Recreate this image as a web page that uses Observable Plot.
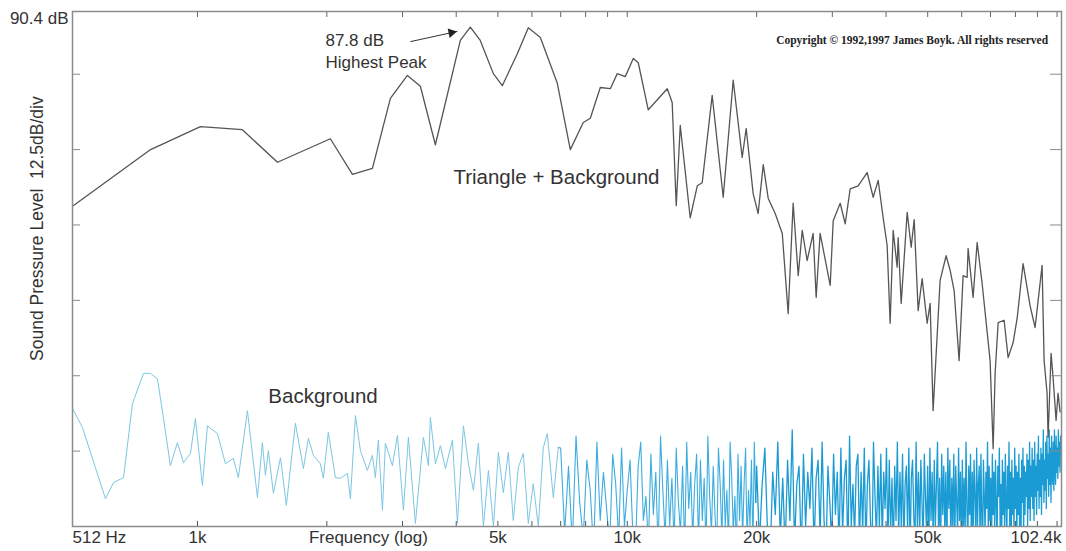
<!DOCTYPE html>
<html>
<head>
<meta charset="utf-8">
<script src="https://cdn.jsdelivr.net/npm/d3@7"></script>
<script src="https://cdn.jsdelivr.net/npm/@observablehq/plot@0.6"></script>
<style>
  html, body { margin: 0; padding: 0; background: #fff; }
  #chart svg { display: block; }
</style>
</head>
<body>
<div id="chart"></div>
<script>
// ---- Triangle + Background spectrum (frequency Hz, level dB) ----
const triFreq = [512, 778, 1016, 1272, 1535, 2038, 2294, 2553, 2811, 3079,
  3301, 3577, 4089, 4313, 4550, 4880, 5120, 5549, 5886, 6278,
  6875, 7370, 7901, 8204, 8654, 9130, 9478, 9893, 10327, 10607,
  11190, 12390, 12720, 13000, 13283, 14010, 14550, 14940, 15760, 16720,
  17640, 18510, 18910, 19630, 20160, 20720, 21280, 22090, 22940, 23680,
  24320, 24990, 25530, 26210, 27070, 27510, 28100, 29660, 30140, 31290,
  32140, 33010, 34450, 36150, 37340, 38350, 39390, 40240, 40890, 41560,
  42450, 42680, 43380, 44800, 45770, 46510, 47510, 48540, 49860, 50660,
  51470, 53440, 55190, 56380, 57610, 59170, 60450, 61760, 62090, 63770,
  65170, 66930, 69860, 71000, 71760, 72930, 75300, 76930, 79030, 80730,
  83360, 86550, 88890, 92290, 93290, 94790, 95310, 96840, 97880, 99470,
  100530, 101620];
const triDb = [58.1, 67.5, 71.3, 70.8, 65.4, 69.3, 63.4, 64.4, 76.0, 79.8,
  78.0, 68.3, 85.6, 87.8, 85.6, 80.1, 78.1, 83.4, 87.7, 86.1,
  78.5, 67.5, 72.0, 72.7, 77.8, 77.6, 80.1, 79.6, 82.6, 81.9,
  74.1, 77.6, 75.3, 58.2, 71.5, 56.2, 61.5, 62.0, 76.5, 59.6,
  79.0, 66.2, 71.0, 60.2, 56.9, 65.0, 59.4, 56.9, 53.6, 40.3,
  58.6, 46.6, 54.1, 49.1, 53.6, 43.0, 53.6, 45.0, 55.7, 58.6,
  55.2, 61.0, 61.5, 63.7, 59.6, 62.4, 56.2, 51.6, 38.7, 54.1,
  48.0, 52.9, 42.0, 57.1, 51.3, 55.9, 40.8, 46.1, 38.7, 42.0,
  24.2, 45.8, 49.9, 47.5, 44.1, 32.5, 46.6, 46.3, 51.1, 43.0,
  52.1, 45.3, 32.5, 17.9, 30.4, 38.8, 39.2, 33.0, 35.5, 39.5,
  48.6, 41.6, 38.0, 48.3, 32.5, 27.1, 19.8, 33.7, 29.7, 22.6,
  27.1, 24.0];

// ---- Background spectrum, low frequencies (frequency Hz, level dB) ----
const bgFreq = [512, 540, 611, 638, 673, 706, 749, 777, 807, 833,
  865, 898, 928, 963, 989, 1027, 1055, 1113, 1162, 1212,
  1245, 1307, 1379, 1416, 1439, 1462, 1502, 1560, 1610, 1690,
  1764, 1812, 1861, 1932, 1963, 2016, 2094, 2151, 2233, 2269,
  2331, 2394, 2485, 2553, 2594, 2636, 2694, 2737, 2842, 2919,
  3014, 3096, 3214, 3355, 3446, 3483, 3578, 3675, 3775, 3919,
  4026, 4157, 4270, 4386, 4505, 4627, 4753, 4882, 5014, 5148,
  5287, 5430, 5578, 5729, 5885, 6045, 6209, 6377, 6515, 6728,
  6911];
const bgDb = [24.6, 21.4, 9.6, 12.3, 13.1, 25.4, 30.4, 30.4, 29.5, 23.1,
  15.1, 18.9, 15.6, 17.1, 22.9, 11.8, 21.7, 20.4, 15.4, 16.3,
  13.1, 24.2, 9.8, 18.9, 13.5, 17.6, 10.5, 16.4, 8.5, 22.1,
  14.6, 19.6, 16.8, 15.4, 13.0, 20.6, 13.1, 13.0, 13.8, 9.6,
  23.4, 17.6, 14.3, 16.8, 13.1, 19.3, 7.7, 18.8, 15.1, 20.1,
  7.7, 19.8, 5.5, 19.8, 15.1, 23.1, 15.4, 18.4, 14.6, 19.3,
  5.5, 21.7, 15.4, 11.0, 18.8, 5.0, 14.3, 5.0, 17.3, 10.6,
  17.3, 6.0, 14.8, 17.1, 5.5, 12.1, 5.0, 18.1, 20.4, 9.8,
  18.1];

// ---- Background spectrum, dense FFT bins 7 kHz .. 20 kHz (150 Hz bins) ----
const bgMidStart = 7000, bgMidStep = 150;
const bgMidDb = [18, 4, 15, 2, 20, 9, 3, 16, 11, 1, 19, 6, 14, 8, 2, 17, 12, 3, 18, 5,
  11, 16, 4, 1, 15, 19, 6, 10, 2, 17, 7, 14, 1, 20, 11, 3, 16, 5, 13, 2,
  18, 9, 4, 15, 1, 19, 8, 14, 3, 12, 17, 2, 16, 6, 13, 1, 20, 10, 4, 15,
  7, 1, 18, 12, 3, 16, 5, 11, 2, 19, 13, 4, 10, 1, 17, 6, 15, 3, 12, 18,
  2, 11, 5, 16, 1, 19, 9];

// ---- Background spectrum, dense FFT bins 20 kHz .. 102.4 kHz (300 Hz bins) ----
const bgHighStart = 20000, bgHighStep = 300;
const bgHighDb = [
  15, 2, 12, 18, 4, 0, 14, 7, 19, 3, 13, 1, 16, 6, 21, 2, 12, 15, 0, 17, 5, 14, 8, 18, 1,
  13, 16, 3, 19, 6, 0, 15, 9, 2, 17, 7, 14, 1, 18, 4, 13, 16, 0, 20, 5, 12, 3, 15, 17, 2,
  14, 4, 18, 1, 12, 16, 6, 0, 19, 10, 3, 15, 5, 17, 2, 14, 8, 18, 1, 16, 4, 13, 0, 15, 6,
  19, 3, 14, 5, 17, 1, 12, 15, 4, 18, 0, 13, 16, 7, 2, 19, 5, 14, 3, 16, 9, 1, 17, 10, 4,
  15, 0, 18, 6, 14, 2, 16, 5, 12, 19, 3, 13, 1, 17, 7, 15, 4, 14, 0, 18, 8, 16, 2, 13, 5,
  17, 1, 15, 9, 4, 18, 6, 14, 0, 16, 5, 13, 3, 19, 8, 2, 15, 7, 17, 1, 14, 4, 16, 10, 3,
  18, 5, 12, 15, 2, 17, 7, 0, 16, 10, 4, 14, 8, 19, 3, 15, 6, 13, 1, 17, 7, 14, 4, 16, 9,
  2, 15, 10, 18, 5, 12, 1, 16, 7, 14, 4, 17, 9, 3, 15, 8, 19, 5, 14, 2, 16, 7, 13, 4, 18,
  8, 15, 3, 14, 7, 17, 5, 13, 1, 16, 9, 18, 4, 15, 7, 14, 10, 17, 5, 16, 8, 19, 6, 15, 10,
  18, 8, 16, 6, 19, 10, 15, 7, 17, 11, 20, 8, 16, 10, 18, 7, 17, 12, 21, 9, 16, 11, 19, 8, 20,
  13, 17, 10, 21, 12, 18, 9, 20, 14, 12, 19, 11, 21, 15, 12, 20, 14, 18, 13, 21, 15, 19, 14, 20, 17];

// ---- Axes ----
const xDomain = [512, 102400];
const yDomain = [5, 90.4];
const xMinorTicks = [1000, 2000, 3000, 4000, 5000, 6000, 7000, 8000, 9000,
  10000, 20000, 30000, 40000, 50000, 60000, 70000, 80000, 90000, 100000];
const yTicks = [17.5, 30, 42.5, 55, 67.5, 80];
const xLabelVals = [1000, 5000, 10000, 20000, 50000];
const xLabelText = ["1k", "5k", "10k", "20k", "50k"];
const xFirstLabel = "512 Hz", xLastLabel = "102.4k";
const yTopText = "90.4 dB";
const yTitle = "Sound Pressure Level \u00a012.5dB/div";
const xTitle = "Frequency (log)";

// ---- Annotations ----
const peakText = [{f: 1985, db: 85.6, t: "87.8 dB"}, {f: 1985, db: 81.9, t: "Highest Peak"}];
const arrowFrom = {f: 3128, db: 85.4}, arrowTo = {f: 4026, db: 87.1}, arrowHead = {f: 3898, db: 86.9};
const seriesLabels = [
  {f: 3940, db: 62.9, t: "Triangle + Background"},
  {f: 1462, db: 26.6, t: "Background"}
];
const copyright = {f: 95300, db: 85.6, t: "Copyright \u00a9 1992,1997 James Boyk. All rights reserved"};
const xTitlePos = 2499;
const yTitlePos = 54.4;

// ---- Build tables ----
const tri = triFreq.map((f, i) => ({f, db: triDb[i]}));
const bgLow = bgFreq.map((f, i) => ({f, db: bgDb[i]}));
const bgMid = [bgLow[bgLow.length - 1]].concat(bgMidDb.map((db, i) => ({f: bgMidStart + i * bgMidStep, db})));
const bgHigh = [bgMid[bgMid.length - 1]].concat(bgHighDb.map((db, i) => ({f: bgHighStart + i * bgHighStep, db})));

const textColor = "#333";
const font = "Arial, 'Liberation Sans', Helvetica, sans-serif";

const chart = Plot.plot({
  width: 1066,
  height: 551,
  marginLeft: 72,
  marginRight: 5,
  marginTop: 11,
  marginBottom: 25,
  style: {fontFamily: font, background: "#fff", color: textColor, overflow: "hidden"},
  x: {type: "log", domain: xDomain, axis: null},
  y: {domain: yDomain, axis: null},
  marks: [
    Plot.line(bgLow, {x: "f", y: "db", stroke: "#7cc6e4", strokeWidth: 1, clip: true}),
    Plot.line(bgMid, {x: "f", y: "db", stroke: "#3dade0", strokeWidth: 1.1, clip: true}),
    Plot.line(bgHigh, {x: "f", y: "db", stroke: "#1b9bd3", strokeWidth: 1.3, clip: true}),
    Plot.line(tri, {x: "f", y: "db", stroke: "#555", strokeWidth: 1.3, clip: true}),
    Plot.frame({stroke: "#8c8c8c", strokeWidth: 1.5}),
    Plot.axisX(xMinorTicks, {anchor: "bottom", tickSize: -5, tickFormat: () => "", label: null, stroke: "#555"}),
    Plot.axisX(xMinorTicks, {anchor: "top", tickSize: -5, tickFormat: () => "", label: null, stroke: "#666"}),
    Plot.axisY(yTicks, {anchor: "left", tickSize: -8, tickFormat: () => "", label: null, stroke: "#888"}),
    Plot.axisY(yTicks, {anchor: "right", tickSize: -12, tickFormat: () => "", label: null, stroke: "#888"}),
    // x tick labels
    Plot.text(xLabelVals, {x: d => d, text: (d, i) => xLabelText[i], frameAnchor: "bottom", lineAnchor: "middle", dy: 11, fontSize: 17, fill: textColor}),
    Plot.text([xDomain[0]], {x: d => d, text: () => xFirstLabel, frameAnchor: "bottom", lineAnchor: "middle", textAnchor: "start", dy: 11, fontSize: 17, fill: textColor}),
    Plot.text([xDomain[1]], {x: d => d, text: () => xLastLabel, frameAnchor: "bottom", lineAnchor: "middle", textAnchor: "start", dx: -51, dy: 11, fontSize: 17, fill: textColor}),
    Plot.text([xTitlePos], {x: d => d, text: () => xTitle, frameAnchor: "bottom", lineAnchor: "middle", dy: 11, fontSize: 17, fill: textColor}),
    // y labels
    Plot.text([yDomain[1]], {y: d => d, text: () => yTopText, frameAnchor: "left", textAnchor: "end", lineAnchor: "middle", dx: -4, dy: 7, fontSize: 17, fill: textColor}),
    Plot.text([yTitlePos], {y: d => d, text: () => yTitle, frameAnchor: "left", textAnchor: "middle", lineAnchor: "middle", dx: -35, rotate: -90, fontSize: 17.5, fill: textColor}),
    // annotations
    Plot.text(peakText, {x: "f", y: "db", text: "t", textAnchor: "start", fontSize: 17, fill: textColor}),
    Plot.link([0], {x1: () => arrowFrom.f, y1: () => arrowFrom.db, x2: () => arrowTo.f, y2: () => arrowTo.db, stroke: "#333", strokeWidth: 1}),
    Plot.dot([arrowHead], {x: "f", y: "db", symbol: "triangle", r: 3.6, fill: "#222", stroke: "none", rotate: 78}),
    Plot.text(seriesLabels, {x: "f", y: "db", text: "t", textAnchor: "start", fontSize: 20.5, fill: textColor}),
    Plot.text([copyright], {x: "f", y: "db", text: "t", textAnchor: "end", fontSize: 11.5, fontWeight: "bold",
      fontFamily: "'Liberation Serif', 'Times New Roman', serif", fill: "#222"})
  ]
});
document.getElementById("chart").appendChild(chart);
</script>
</body>
</html>
